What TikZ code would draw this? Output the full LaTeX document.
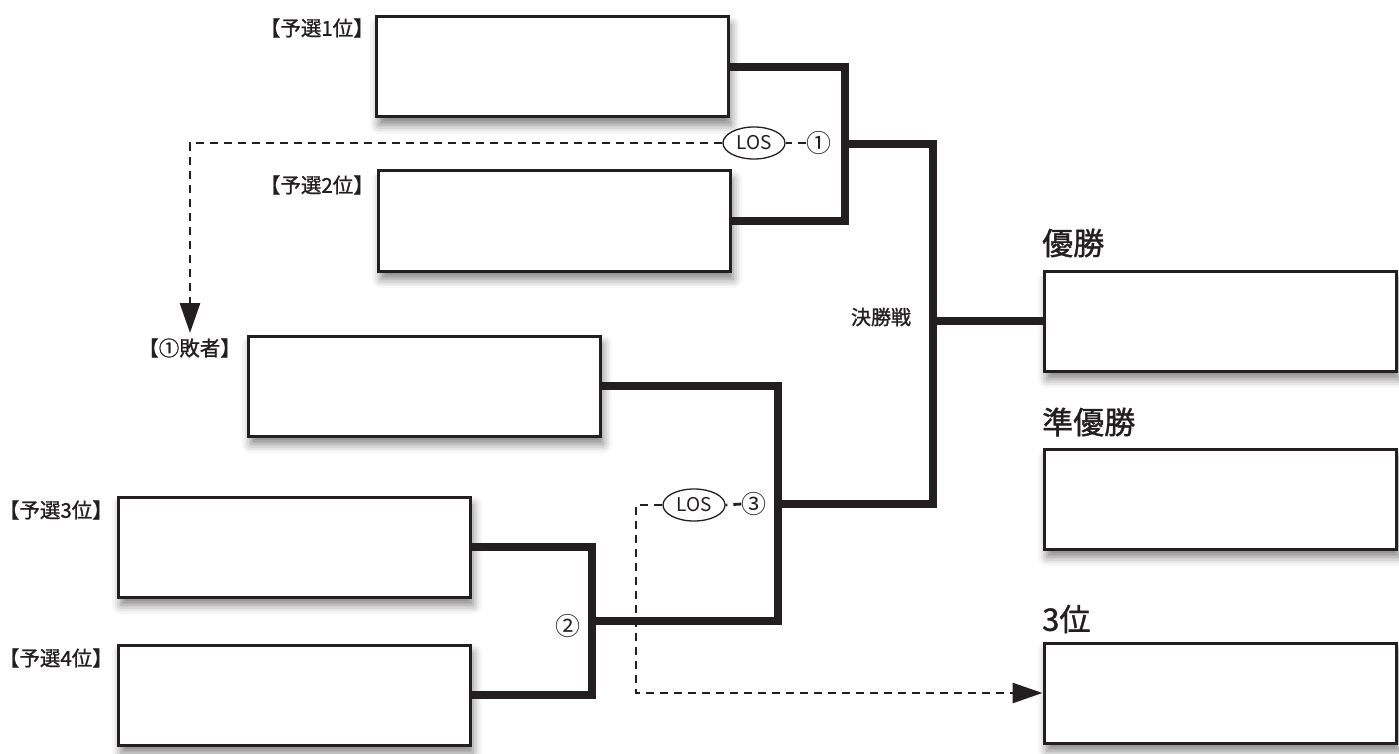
\documentclass[tikz,border=0pt]{standalone}
\usepackage{fontspec}
\newfontfamily\jp[FakeBold=1.2]{Noto Sans CJK JP}
\newfontfamily\jpthin{Noto Sans CJK JP}
\usetikzlibrary{shapes.geometric,arrows.meta,shadows.blur,calc}
\definecolor{ink}{HTML}{231F20}
\tikzset{
  slot/.style={draw=ink, line width=3pt, fill=white, minimum width=352pt,
    minimum height=100pt, inner sep=0pt,
    blur shadow={shadow xshift=3pt, shadow yshift=-8pt,
      shadow blur radius=9pt, shadow opacity=50}},
  bracket/.style={draw=ink, line width=8pt, line join=miter},
  loser/.style={draw=ink, line width=2.8pt, dash pattern=on 8pt off 6pt},
  tip/.style={-{Triangle[length=30pt,width=20pt]}},
  seed/.style={inner sep=0pt, text=ink, font=\jp\fontsize{20.5pt}{24pt}\selectfont},
  rank/.style={inner sep=0pt, anchor=west, text=ink, font=\jp\fontsize{31pt}{36pt}\selectfont},
  tag/.style={inner sep=0pt, text=ink, font=\jp\fontsize{20pt}{24pt}\selectfont},
  num/.style={inner sep=0pt, text=ink, font=\jpthin\fontsize{25pt}{28pt}\selectfont},
  los/.style={ellipse, draw=ink, line width=1.3pt, minimum width=62pt,
    minimum height=32pt, inner sep=0pt, fill=white, text=ink,
    font=\jpthin\fontsize{19pt}{22pt}\selectfont},
}
\begin{document}
\begin{tikzpicture}[x=1pt,y=-1pt]
\useasboundingbox (0,0) rectangle (1399,754);

% entry slots
\node[slot] (b1) at (552,67) {};
\node[slot] (b2) at (554,221) {};
\node[slot] (bL) at (424,386) {};
\node[slot] (b3) at (294,547) {};
\node[slot] (b4) at (294,695) {};

% result slots
\node[slot] (W) at (1220,321) {};
\node[slot] (R) at (1220,499) {};
\node[slot] (T) at (1220,693) {};

% slot labels
\node[seed, anchor=east] (s1) at (374,28) {【予選1位】};
\node[seed, anchor=east] (s2) at (374,185) {【予選2位】};
\node[seed, anchor=east] (sL) at (241,348) {【①敗者】};
\node[seed, anchor=east] (s3) at (113,510) {【予選3位】};
\node[seed, anchor=east] (s4) at (113,658) {【予選4位】};

\node[rank] (hW) at (1042,243) {優勝};
\node[rank] (hR) at (1042,422) {準優勝};
\node[rank] (hT) at (1042,619) {3位};

% bracket columns
\coordinate (x1) at (845,0);
\coordinate (x2) at (592,0);
\coordinate (x3) at (778,0);
\coordinate (x4) at (933,0);

% match ①
\draw[bracket] (b1.east) -- (b1.east -| x1) -- (b2.east -| x1) -- (b2.east);
\coordinate (m1) at ($(b1.east -| x1)!.5!(b2.east -| x1)$);
% match ②
\draw[bracket] (b3.east) -- (b3.east -| x2) -- (b4.east -| x2) -- (b4.east);
\coordinate (m2) at ($(b3.east -| x2)!.5!(b4.east -| x2)$);
% match ③
\draw[bracket] (bL.east) -- (bL.east -| x3) -- (m2 -| x3) -- (m2);
\coordinate (m3) at ($(bL.east -| x3)!.5!(m2 -| x3)$);
% final
\draw[bracket] (m1) -- (m1 -| x4) -- (m3 -| x4) -- (m3);
\draw[bracket] (W.west -| x4) -- (W.west);

\node[tag] (fin) at (881,317) {決勝戦};

% match numbers and loser tags
\node[num] (c1) at (819,143) {①};
\node[num] (c2) at (568,626) {②};
\node[num] (c3) at (754,504) {③};
\node[los] (L1) at (754,143) {LOS};
\node[los] (L3) at (694,505) {LOS};

% loser routes
\coordinate (d1) at (190,0);
\coordinate (d1end) at (190,333);
\coordinate (d3) at (636,0);
\draw[loser] (c1.west) -- (L1.east);
\draw[loser, tip] (L1.west) -- (L1.west -| d1) -- (d1end);
\draw[loser] (c3.west) -- (L3.east);
\draw[loser, tip] (L3.west) -- (L3.west -| d3) -- (T.west -| d3) -- (T.west);
\end{tikzpicture}
\end{document}
